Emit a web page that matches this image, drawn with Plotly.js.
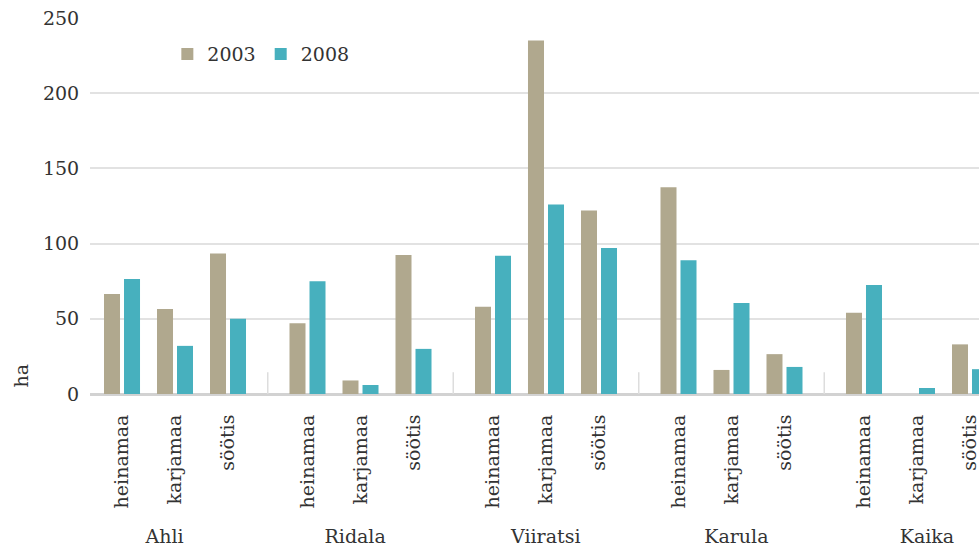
<!DOCTYPE html>
<html>
<head>
<meta charset="utf-8">
<script src="https://cdn.plot.ly/plotly-3.0.1.min.js"></script>
<style>
  html, body { margin: 0; padding: 0; background: #ffffff; }
  #chart { width: 979px; height: 549px; }
</style>
</head>
<body>
<div id="chart"></div>
<script>
// ---- data ----
const groups = ["Ahli", "Ridala", "Viiratsi", "Karula", "Kaika"];
const landTypes = ["heinamaa", "karjamaa", "söötis"];
const seriesNames = ["2003", "2008"];
// values per group in landTypes order (ha)
const values2003 = [
  66.5, 56.5, 93.5,   // Ahli
  47, 9, 92.5,        // Ridala
  58, 235, 122,       // Viiratsi
  137.5, 16, 26.5,    // Karula
  54, 0, 33           // Kaika
];
const values2008 = [
  76.5, 32, 50,       // Ahli
  75, 6, 30,          // Ridala
  92, 126, 97,        // Viiratsi
  89, 60.5, 18,       // Karula
  72.5, 4, 16.5       // Kaika
];
const yTicks = [0, 50, 100, 150, 200, 250];
const yTitle = "ha";

// ---- layout helpers ----
const GROUP_STEP = 3.5;   // category slots per group incl. gap
const positions = [];
const tickText = [];
groups.forEach((g, gi) => {
  landTypes.forEach((t, ti) => {
    positions.push(gi * GROUP_STEP + ti);
    tickText.push(t);
  });
});
const separators = groups.slice(1).map((g, i) => (i + 1) * GROUP_STEP - (GROUP_STEP - (landTypes.length - 1)) / 2);

const FONT = "DejaVu Serif, serif";
const FS = 19;
const TXT = "#333333";
const colors = ["#b0a88e", "#47b0be"];

const traces = [values2003, values2008].map((vals, i) => ({
  type: "bar",
  name: seriesNames[i],
  x: positions,
  y: vals,
  marker: { color: colors[i], line: { width: 0 } },
  hovertemplate: "%{y}<extra>" + seriesNames[i] + "</extra>"
}));

// invisible helper trace so the group-label axis is drawn
traces.push({
  type: "scatter",
  mode: "none",
  x: groups.map((g, i) => i),
  y: groups.map(() => 0),
  xaxis: "x2",
  yaxis: "y",
  showlegend: false,
  hoverinfo: "skip"
});

const shapes = separators.map(xs => ({
  type: "line",
  xref: "x", yref: "paper",
  x0: xs, x1: xs, y0: 0, y1: 0.058,
  line: { color: "#dddddd", width: 1.5 }
}));

const layout = {
  width: 979,
  height: 549,
  margin: { l: 90, r: 0, t: 18, b: 155, pad: 0 },
  paper_bgcolor: "#ffffff",
  plot_bgcolor: "#ffffff",
  font: { family: FONT, size: FS, color: TXT },
  barmode: "group",
  bargap: 0.245,
  bargroupgap: 0.2,
  showlegend: true,
  legend: {
    orientation: "h",
    x: 0.087, xanchor: "left",
    y: 0.904, yanchor: "middle",
    font: { family: FONT, size: FS, color: TXT },
    bgcolor: "rgba(0,0,0,0)",
    itemclick: false, itemdoubleclick: false
  },
  xaxis: {
    range: [-0.604, 16.17],
    tickmode: "array",
    tickvals: positions,
    ticktext: tickText,
    tickangle: -90,
    ticks: "outside",
    ticklen: 12,
    tickcolor: "rgba(0,0,0,0)",
    ticklabeloverflow: "allow",
    showgrid: false,
    zeroline: false,
    showline: false,
    tickfont: { family: FONT, size: FS, color: TXT },
    fixedrange: true
  },
  xaxis2: {
    overlaying: "x",
    anchor: "y",
    side: "bottom",
    range: [-0.391, 4.273],
    tickmode: "array",
    tickvals: groups.map((g, i) => i),
    ticktext: groups,
    ticks: "outside",
    ticklen: 125,
    tickcolor: "rgba(0,0,0,0)",
    ticklabeloverflow: "allow",
    showgrid: false,
    zeroline: false,
    showline: false,
    tickfont: { family: FONT, size: FS, color: TXT },
    fixedrange: true
  },
  yaxis: {
    range: [0, 250],
    tickmode: "array",
    tickvals: yTicks,
    ticktext: yTicks.map(String),
    showgrid: true,
    gridcolor: "#e2e2e2",
    gridwidth: 1.5,
    zeroline: true,
    zerolinecolor: "#d2d2d2",
    zerolinewidth: 2.5,
    showline: false,
    ticks: "outside",
    ticklen: 6,
    tickcolor: "rgba(0,0,0,0)",
    tickfont: { family: FONT, size: FS, color: TXT },
    fixedrange: true
  },
  shapes: shapes,
  annotations: [{
    text: yTitle,
    xref: "paper", yref: "paper",
    x: -0.078, y: 0.048,
    xanchor: "center", yanchor: "middle",
    textangle: -90,
    showarrow: false,
    font: { family: FONT, size: FS, color: TXT }
  }]
};

Plotly.newPlot("chart", traces, layout, { displayModeBar: false, responsive: false });
</script>
</body>
</html>
